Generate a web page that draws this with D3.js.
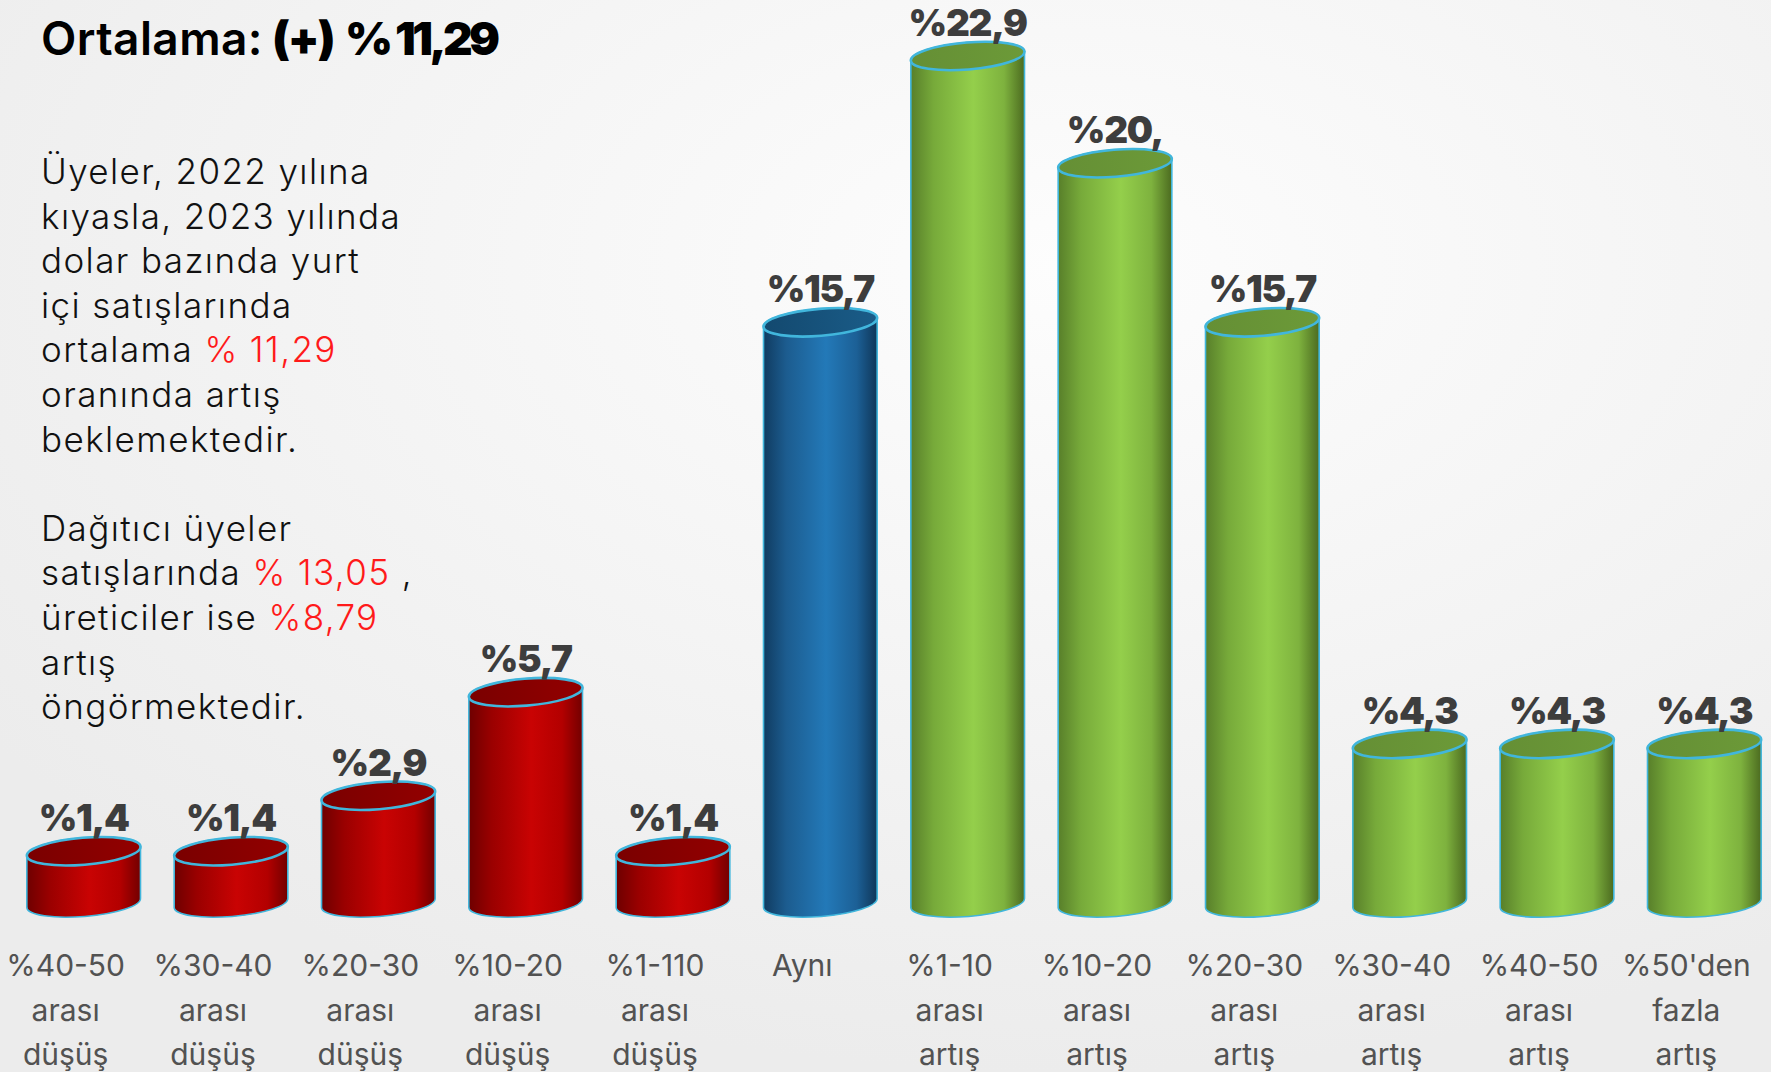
<!DOCTYPE html>
<html>
<head>
<meta charset="utf-8">
<script src="https://cdn.jsdelivr.net/npm/d3@7"></script>
<style>
  html, body { margin: 0; padding: 0; background: #f1f1f1; }
  svg { display: block; }
</style>
</head>
<body>
<div id="chart"></div>
<script>
// data
const categories = ["%40-50 arası düşüş", "%30-40 arası düşüş", "%20-30 arası düşüş", "%10-20 arası düşüş",
  "%1-110 arası düşüş", "Aynı", "%1-10 arası artış", "%10-20 arası artış", "%20-30 arası artış",
  "%30-40 arası artış", "%40-50 arası artış", "%50'den fazla artış"];
const values = [1.4, 1.4, 2.9, 5.7, 1.4, 15.7, 22.9, 20, 15.7, 4.3, 4.3, 4.3];
const valueLabels = ["%1,4", "%1,4", "%2,9", "%5,7", "%1,4", "%15,7", "%22,9", "%20,", "%15,7", "%4,3", "%4,3", "%4,3"];
const groups = ["down", "down", "down", "down", "down", "same", "up", "up", "up", "up", "up", "up"];

const titleParts = ["Ortalama:", "(+)", "% 11,29"];
const paragraph = [
  [["Üyeler, 2022 yılına", 0]],
  [["kıyasla, 2023 yılında", 0]],
  [["dolar bazında yurt", 0]],
  [["içi satışlarında", 0]],
  [["ortalama ", 0], ["% 11,29", 1]],
  [["oranında artış", 0]],
  [["beklemektedir.", 0]],
  [],
  [["Dağıtıcı üyeler", 0]],
  [["satışlarında ", 0], ["% 13,05", 1], [" ,", 0]],
  [["üreticiler ise ", 0], ["%8,79", 1]],
  [["artış", 0]],
  [["öngörmektedir.", 0]]
];

const width = 1771, height = 1072;
const svg = d3.select("#chart").append("svg")
  .attr("width", width)
  .attr("height", height);

const defs = svg.append("defs");

// background
const bg = defs.append("radialGradient").attr("id", "bg")
  .attr("cx", 0.6).attr("cy", 0.25).attr("r", 0.75);
bg.append("stop").attr("offset", 0).attr("stop-color", "#fdfdfd");
bg.append("stop").attr("offset", 1).attr("stop-color", "#ececec");
svg.append("rect").attr("width", width).attr("height", height).attr("fill", "url(#bg)");

// cylinder colours
const palette = {
  down: { side: ["#6e0000", "#9a0000", "#c90303", "#b30000", "#720000"], top: ["#7a0000", "#930000"] },
  same: { side: ["#103b60", "#1c5c8f", "#2379b8", "#1c6096", "#0f3658"], top: ["#13496f", "#1a5c88"] },
  up:   { side: ["#587f2a", "#77aa3a", "#94cf4b", "#7eb23e", "#4c6b20"], top: ["#658f35", "#6c9a38"] }
};
Object.entries(palette).forEach(([k, p]) => {
  const g = defs.append("linearGradient").attr("id", "side-" + k)
    .attr("x1", 0).attr("x2", 1).attr("y1", 0).attr("y2", 0);
  [0, 0.2, 0.55, 0.82, 1].forEach((o, i) =>
    g.append("stop").attr("offset", o).attr("stop-color", p.side[i]));
  const t = defs.append("linearGradient").attr("id", "top-" + k)
    .attr("x1", 0).attr("x2", 1).attr("y1", 0).attr("y2", 0);
  t.append("stop").attr("offset", 0).attr("stop-color", p.top[0]);
  t.append("stop").attr("offset", 1).attr("stop-color", p.top[1]);
});

// scales
const x = d3.scaleBand()
  .domain(categories)
  .range([10, 1778])
  .paddingInner(0.226)
  .paddingOuter(0.113);

const y = d3.scaleLinear()
  .domain([0, 22.9])
  .range([903, 56]);

const rx = x.bandwidth() / 2;
const ry = 13.5;
const tilt = -4.7; // degrees, right end higher
const dx = rx * Math.cos(tilt * Math.PI / 180);
const dy = rx * Math.sin(tilt * Math.PI / 180);

function sidePath(cx, yTop, yBot) {
  return "M" + (cx - dx) + "," + (yTop - dy) +
    " L" + (cx - dx) + "," + (yBot - dy) +
    " A" + rx + "," + ry + " " + tilt + " 0 0 " + (cx + dx) + "," + (yBot + dy) +
    " L" + (cx + dx) + "," + (yTop + dy) +
    " A" + rx + "," + ry + " " + tilt + " 0 0 " + (cx - dx) + "," + (yTop - dy) + " Z";
}

const data = categories.map((c, i) => ({
  cat: c, value: values[i], label: valueLabels[i], group: groups[i]
}));

const bars = svg.append("g").selectAll("g.bar")
  .data(data)
  .enter().append("g")
  .attr("class", "bar");

bars.append("path")
  .attr("d", d => sidePath(x(d.cat) + rx, y(d.value), y(0)))
  .attr("fill", d => "url(#side-" + d.group + ")")
  .attr("stroke", "#41b6dc")
  .attr("stroke-width", 1.6);

bars.append("ellipse")
  .attr("cx", d => x(d.cat) + rx)
  .attr("cy", d => y(d.value))
  .attr("rx", rx)
  .attr("ry", ry)
  .attr("transform", d => "rotate(" + tilt + "," + (x(d.cat) + rx) + "," + y(d.value) + ")")
  .attr("fill", d => "url(#top-" + d.group + ")")
  .attr("stroke", "#41b6dc")
  .attr("stroke-width", 2.6);

// value labels
bars.append("text")
  .attr("x", d => x(d.cat) + rx)
  .attr("y", d => y(d.value) - 20)
  .attr("text-anchor", "middle")
  .style("font-family", "Inter, 'Open Sans', sans-serif")
  .style("font-weight", 900)
  .style("font-size", "37px")
  .style("letter-spacing", "-1.3px")
  .attr("fill", "#3d3d3d")
  .text(d => d.label);

// category labels
const catText = svg.append("g").selectAll("text")
  .data(data)
  .enter().append("text")
  .attr("text-anchor", "middle")
  .style("font-family", "Inter, 'Open Sans', sans-serif")
  .style("font-size", "30px")
  .attr("fill", "#525252");

catText.selectAll("tspan")
  .data(d => d.cat.split(" ").map(w => ({ w: w, cx: x(d.cat) + rx - 18 })))
  .enter().append("tspan")
  .attr("x", d => d.cx)
  .attr("y", (d, i) => 976 + i * 44.5)
  .text(d => d.w);

// title
const titleFont = "Inter, 'Open Sans', sans-serif";
svg.append("text")
  .attr("x", 41).attr("y", 55)
  .style("font-family", titleFont).style("font-size", "46px")
  .style("font-weight", 600).style("letter-spacing", "0.4px")
  .attr("fill", "#000")
  .text(titleParts[0]);
svg.append("text")
  .attr("x", 272).attr("y", 55)
  .style("font-family", titleFont).style("font-size", "46px")
  .style("font-weight", 900).style("letter-spacing", "-2px")
  .attr("fill", "#000")
  .text(titleParts[1]);
svg.append("text")
  .attr("x", 345).attr("y", 55)
  .style("font-family", titleFont).style("font-size", "46px")
  .style("font-weight", 900).style("letter-spacing", "-3.6px")
  .attr("fill", "#000")
  .text(titleParts[2]);

// paragraph
const para = svg.append("g").selectAll("text")
  .data(paragraph)
  .enter().append("text")
  .attr("x", 41)
  .attr("y", (d, i) => 184 + i * 44.6)
  .style("font-family", "Inter, 'Open Sans', sans-serif")
  .style("font-weight", 300)
  .style("font-size", "35px")
  .style("letter-spacing", "1.4px")
  .attr("fill", "#111");

para.selectAll("tspan")
  .data(d => d)
  .enter().append("tspan")
  .attr("fill", d => d[1] ? "#ff1a1a" : "#111")
  .style("white-space", "pre")
  .text(d => d[0]);
</script>
</body>
</html>
